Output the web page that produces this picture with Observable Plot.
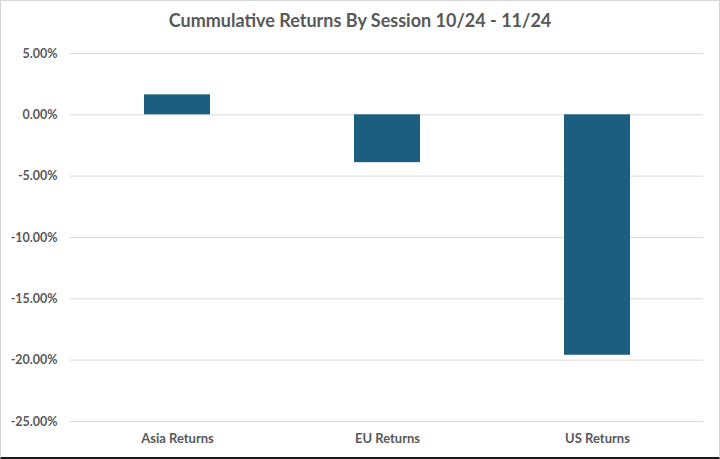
<!DOCTYPE html>
<html>
<head>
<meta charset="utf-8">
<script src="https://cdn.jsdelivr.net/npm/d3@7"></script>
<script src="https://cdn.jsdelivr.net/npm/@observablehq/plot@0.6"></script>
<style>
  html, body { margin: 0; padding: 0; background: #fff; }
  #wrap { position: relative; width: 720px; height: 459px; overflow: hidden; background: #fff; font-family: Lato, sans-serif; }
  #title { height: 40px; box-sizing: border-box; padding-top: 9px; line-height: 22px; text-align: center; font-size: 18px; font-weight: 700; color: #595959; }
  #frame { position: absolute; left: 0; top: 0; right: 0; bottom: 0; box-sizing: border-box; border: 1px solid #d6d6d6; border-bottom: 2px solid #1a1a1a; pointer-events: none; }
</style>
</head>
<body>
<div id="wrap">
  <div id="title">Cummulative Returns By Session 10/24 - 11/24</div>
  <div id="chart"></div>
  <div id="frame"></div>
</div>
<script>
const categories = ["Asia Returns", "EU Returns", "US Returns"];
const returns = [0.0163, -0.039, -0.196];
const yTicks = [0.05, 0, -0.05, -0.10, -0.15, -0.20, -0.25];

const data = categories.map((c, i) => ({category: c, value: returns[i]}));
const fmt = d => (Math.abs(d) < 1e-9 ? 0 : d * 100).toFixed(2) + "%";

const chart = Plot.plot({
  width: 720,
  height: 419,
  marginTop: 13,
  marginBottom: 38,
  marginLeft: 70,
  marginRight: 17,
  style: {fontFamily: "Lato, sans-serif", fontSize: "12px", fontWeight: "700", color: "#595959", background: "#fff"},
  x: {domain: categories, paddingInner: 0.687, paddingOuter: 0.344, label: null},
  y: {domain: [-0.25, 0.05], label: null},
  marks: [
    Plot.ruleY(yTicks, {stroke: "#d9d9d9", strokeWidth: 1}),
    Plot.barY(data, {x: "category", y: "value", fill: "#1b5e80"}),
    Plot.axisY(yTicks, {tickSize: 0, tickPadding: 13, tickFormat: fmt, label: null, fill: "#595959", fontSize: 12.5}),
    Plot.axisX({tickSize: 0, tickPadding: 12, label: null, fill: "#595959", fontSize: 13})
  ]
});
document.getElementById("chart").appendChild(chart);
</script>
</body>
</html>
